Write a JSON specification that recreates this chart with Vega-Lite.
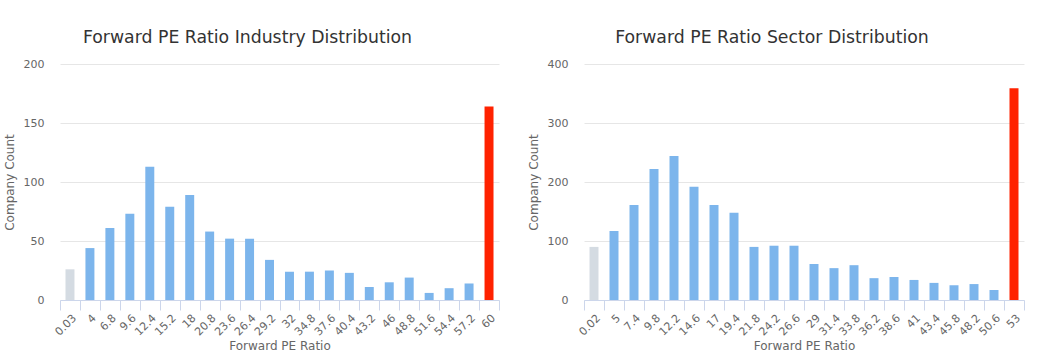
{
  "$schema": "https://vega.github.io/schema/vega-lite/v6.json",
  "padding": {"left": 3, "top": 28, "right": 5, "bottom": 2},
  "spacing": 27,
  "config": {
    "font": "DejaVu Sans",
    "view": {"stroke": null},
    "title": {"fontSize": 17.3, "fontWeight": "normal", "color": "#333333", "dx": -32, "offset": 12},
    "axis": {
      "labelColor": "#666666", "labelFontSize": 11, "titleColor": "#666666", "titleFontSize": 12, "titleFontWeight": "normal",
      "gridColor": "#e6e6e6"
    }
  },
  "hconcat": [
    {
      "width": 439, "height": 236,
      "title": "Forward PE Ratio Industry Distribution",
      "data": {"values": [
        {"bin": "0.03", "count": 26, "kind": "low"},
        {"bin": "4", "count": 44, "kind": "mid"},
        {"bin": "6.8", "count": 61, "kind": "mid"},
        {"bin": "9.6", "count": 73, "kind": "mid"},
        {"bin": "12.4", "count": 113, "kind": "mid"},
        {"bin": "15.2", "count": 79, "kind": "mid"},
        {"bin": "18", "count": 89, "kind": "mid"},
        {"bin": "20.8", "count": 58, "kind": "mid"},
        {"bin": "23.6", "count": 52, "kind": "mid"},
        {"bin": "26.4", "count": 52, "kind": "mid"},
        {"bin": "29.2", "count": 34, "kind": "mid"},
        {"bin": "32", "count": 24, "kind": "mid"},
        {"bin": "34.8", "count": 24, "kind": "mid"},
        {"bin": "37.6", "count": 25, "kind": "mid"},
        {"bin": "40.4", "count": 23, "kind": "mid"},
        {"bin": "43.2", "count": 11, "kind": "mid"},
        {"bin": "46", "count": 15, "kind": "mid"},
        {"bin": "48.8", "count": 19, "kind": "mid"},
        {"bin": "51.6", "count": 6, "kind": "mid"},
        {"bin": "54.4", "count": 10, "kind": "mid"},
        {"bin": "57.2", "count": 14, "kind": "mid"},
        {"bin": "60", "count": 164, "kind": "high"}
      ]},
      "mark": {"type": "bar", "width": {"band": 0.45}},
      "encoding": {
        "x": {"field": "bin", "type": "nominal", "sort": null, "title": "Forward PE Ratio",
          "scale": {"paddingInner": 0, "paddingOuter": 0},
          "axis": {"labelAngle": -45, "tickBand": "extent", "domainColor": "#ccd6eb", "tickColor": "#ccd6eb", "tickSize": 10, "labelPadding": 2, "grid": false, "titlePadding": 3}},
        "y": {"field": "count", "type": "quantitative", "title": "Company Count",
          "scale": {"domain": [0, 200], "nice": false},
          "axis": {"values": [0, 50, 100, 150, 200], "domain": false, "ticks": false, "tickSize": 0, "labelPadding": 16, "titlePadding": 7}},
        "color": {"field": "kind", "type": "nominal", "scale": {"domain": ["low", "mid", "high"], "range": ["#d4dbe2", "#7cb5ec", "#ff2200"]}, "legend": null}
      }
    },
    {
      "width": 440, "height": 236,
      "title": "Forward PE Ratio Sector Distribution",
      "data": {"values": [
        {"bin": "0.02", "count": 90, "kind": "low"},
        {"bin": "5", "count": 117, "kind": "mid"},
        {"bin": "7.4", "count": 161, "kind": "mid"},
        {"bin": "9.8", "count": 222, "kind": "mid"},
        {"bin": "12.2", "count": 244, "kind": "mid"},
        {"bin": "14.6", "count": 192, "kind": "mid"},
        {"bin": "17", "count": 161, "kind": "mid"},
        {"bin": "19.4", "count": 148, "kind": "mid"},
        {"bin": "21.8", "count": 90, "kind": "mid"},
        {"bin": "24.2", "count": 92, "kind": "mid"},
        {"bin": "26.6", "count": 92, "kind": "mid"},
        {"bin": "29", "count": 61, "kind": "mid"},
        {"bin": "31.4", "count": 54, "kind": "mid"},
        {"bin": "33.8", "count": 59, "kind": "mid"},
        {"bin": "36.2", "count": 37, "kind": "mid"},
        {"bin": "38.6", "count": 39, "kind": "mid"},
        {"bin": "41", "count": 34, "kind": "mid"},
        {"bin": "43.4", "count": 29, "kind": "mid"},
        {"bin": "45.8", "count": 25, "kind": "mid"},
        {"bin": "48.2", "count": 27, "kind": "mid"},
        {"bin": "50.6", "count": 17, "kind": "mid"},
        {"bin": "53", "count": 359, "kind": "high"}
      ]},
      "mark": {"type": "bar", "width": {"band": 0.45}},
      "encoding": {
        "x": {"field": "bin", "type": "nominal", "sort": null, "title": "Forward PE Ratio",
          "scale": {"paddingInner": 0, "paddingOuter": 0},
          "axis": {"labelAngle": -45, "tickBand": "extent", "domainColor": "#ccd6eb", "tickColor": "#ccd6eb", "tickSize": 10, "labelPadding": 2, "grid": false, "titlePadding": 3}},
        "y": {"field": "count", "type": "quantitative", "title": "Company Count",
          "scale": {"domain": [0, 400], "nice": false},
          "axis": {"values": [0, 100, 200, 300, 400], "domain": false, "ticks": false, "tickSize": 0, "labelPadding": 16, "titlePadding": 7}},
        "color": {"field": "kind", "type": "nominal", "scale": {"domain": ["low", "mid", "high"], "range": ["#d4dbe2", "#7cb5ec", "#ff2200"]}, "legend": null}
      }
    }
  ]
}
